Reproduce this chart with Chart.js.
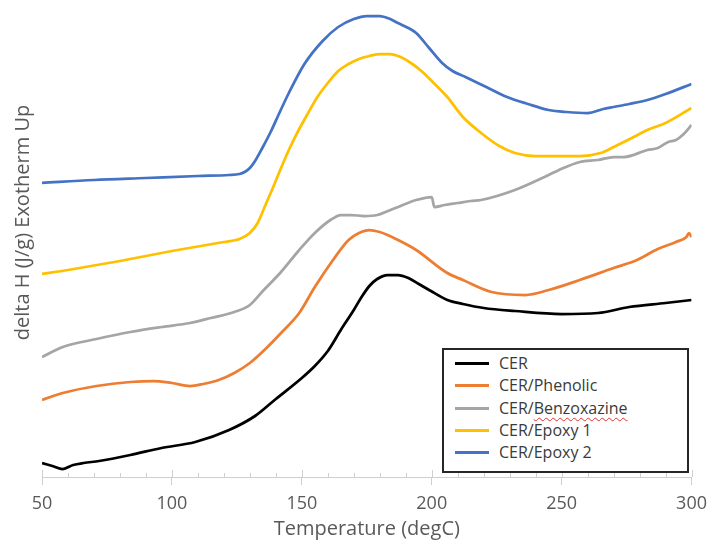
<!DOCTYPE html>
<html><head><meta charset="utf-8">
<script src="https://cdn.jsdelivr.net/npm/chart.js@4"></script>
<style>
html,body{margin:0;padding:0;background:#fff;}
#wrap{position:relative;width:715px;height:545px;}
#legend{position:absolute;left:442px;top:348px;width:243px;height:121px;border:2px solid #262626;background:#fff;font-family:"Open Sans";font-size:16px;color:#3a3a3a;}
.row{position:absolute;left:0;height:22px;display:flex;align-items:center;white-space:nowrap;}
.sw{display:inline-block;width:34px;height:3px;margin-left:11px;margin-right:10px;}
.sq{text-decoration:underline wavy #e03030;text-decoration-thickness:1px;text-underline-offset:3px;}
</style></head>
<body>
<div id="wrap">
<canvas id="c" width="715" height="545"></canvas>
<div id="legend"></div>
</div>
<script>
const seriesNames = ["CER", "CER/Phenolic", "CER/Benzoxazine", "CER/Epoxy 1", "CER/Epoxy 2"];
const seriesColors = ["#000000", "#ED7D31", "#A5A5A5", "#FFC000", "#4472C4"];
const xTicks = [50, 100, 150, 200, 250, 300];
const xTitle = "Temperature (degC)";
const yTitle = "delta H (J/g) Exotherm Up";

const cerX = [50,54,58,62,66,72,84,96,109,122,132,140,150,155,160,165,170,173,176,179,183,187,191,195,199,206,212,220,232,250,264,276,290,300];
const cerY = [1.4,1.1,0.8,1.2,1.4,1.6,2.2,2.9,3.5,4.7,6.1,7.8,9.9,11.1,12.6,14.7,16.7,18.0,19.1,19.8,20.2,20.2,19.9,19.3,18.7,17.7,17.3,16.9,16.6,16.3,16.4,17.0,17.4,17.7];

const phX = [50,58,71,84,93,100,107,112,118,124,130,136,142,149,155,162,168,172,176,180,183,187,194,206,212,223,236,245,257,270,279,287,294,298,299,300];
const phY = [7.7,8.4,9.1,9.5,9.6,9.4,9.1,9.3,9.7,10.4,11.4,12.8,14.4,16.4,19.0,21.7,23.7,24.4,24.7,24.5,24.2,23.7,22.7,20.4,19.7,18.5,18.2,18.7,19.7,20.9,21.7,22.8,23.5,24.0,24.4,24.0];

const bzX = [50,58,71,84,96,107,115,124,130,135,142,149,155,161,165,169,174,179,186,194,200,201,205,210,215,219,232,245,249,257,264,270,274,283,287,291,294,297,300];
const bzY = [12.0,13.0,13.8,14.5,15.0,15.4,15.9,16.5,17.2,18.6,20.5,22.7,24.4,25.7,26.2,26.2,26.1,26.2,26.9,27.7,28.0,27.0,27.2,27.4,27.6,27.7,28.7,30.2,30.7,31.5,31.7,32.0,32.0,32.7,32.9,33.5,33.7,34.3,35.2];

const e1X = [50,60,80,100,120,126,130,133,136,139,142,145,148,152,156,160,164,168,172,176,180,184,188,192,196,200,206,212,219,226,232,240,248,257,265,270,277,283,290,300];
const e1Y = [20.3,20.7,21.6,22.6,23.5,23.8,24.4,25.4,27.2,29.0,30.9,32.7,34.3,36.2,38.0,39.4,40.6,41.3,41.8,42.1,42.3,42.3,42.0,41.4,40.6,39.6,38.0,36.0,34.4,33.1,32.4,32.1,32.1,32.1,32.4,33.0,33.9,34.7,35.4,36.9];

const e2X = [50,70,90,110,122,126,128,130,132,135,138,141,145,151,158,164,170,175,180,184,187,191,194,199,204,208,213,221,229,237,245,252,260,266,270,276,283,290,300];
const e2Y = [29.4,29.7,29.9,30.1,30.2,30.3,30.5,30.9,31.6,33.0,34.5,36.2,38.4,41.3,43.6,45.0,45.8,46.1,46.1,45.8,45.4,44.9,44.4,42.9,41.4,40.6,40.0,39.0,38.0,37.3,36.7,36.5,36.4,36.8,37.0,37.3,37.7,38.3,39.3];

const allX = [cerX, phX, bzX, e1X, e2X];
const allY = [cerY, phY, bzY, e1Y, e2Y];

const FONT = "'Open Sans', 'DejaVu Sans', sans-serif";
const AXIS_COLOR = "#595959";

const datasets = seriesNames.map((name, i) => ({
  label: name,
  data: allX[i].map((x, k) => ({x: x, y: allY[i][k]})),
  borderColor: seriesColors[i],
  backgroundColor: seriesColors[i],
  borderWidth: 2.75,
  pointRadius: 0,
  fill: false,
  cubicInterpolationMode: 'monotone'
}));

const innerTicks = {
  id: 'innerTicks',
  afterDraw(chart) {
    const xs = chart.scales.x;
    const ctx = chart.ctx;
    const ca = chart.chartArea;
    const y0 = ca.bottom;
    ctx.save();
    ctx.strokeStyle = '#cfcfcf';
    ctx.lineWidth = 1;
    for (let v = xs.min; v <= xs.max; v += 10) {
      const px = Math.round(xs.getPixelForValue(v)) + 0.5;
      const len = xTicks.includes(v) ? 7 : 4;
      ctx.beginPath();
      ctx.moveTo(px, y0);
      ctx.lineTo(px, y0 - len);
      ctx.stroke();
    }
    ctx.restore();
    // y axis title, placed slightly above the plot centre as in the source
    ctx.save();
    ctx.translate(chart.scales.y.left + 23, ca.top + (ca.bottom - ca.top) * 0.455);
    ctx.rotate(-Math.PI / 2);
    ctx.font = "20px " + FONT;
    ctx.fillStyle = AXIS_COLOR;
    ctx.textAlign = 'center';
    ctx.textBaseline = 'middle';
    ctx.fillText(yTitle, 0, 0);
    ctx.restore();
  }
};

new Chart(document.getElementById('c'), {
  type: 'line',
  data: { datasets },
  plugins: [innerTicks],
  options: {
    responsive: false,
    animation: false,
    layout: { padding: { top: 10, right: 21, left: 0, bottom: 0 } },
    plugins: { legend: { display: false }, tooltip: { enabled: false } },
    scales: {
      x: {
        type: 'linear',
        min: 50, max: 300,
        afterFit(s) { s.height = 68; },
        afterBuildTicks(s) {
          const t = [];
          for (let v = 50; v <= 300; v += 10) t.push({value: v});
          s.ticks = t;
        },
        ticks: {
          autoSkip: false, maxRotation: 0,
          callback: v => xTicks.includes(v) ? String(v) : '',
          font: { family: FONT, size: 18 },
          color: AXIS_COLOR,
          padding: 8
        },
        grid: {
          drawOnChartArea: false,
          drawTicks: true,
          tickLength: 8,
          color: c => (c.tick && xTicks.includes(c.tick.value)) ? '#cfcfcf' : 'rgba(0,0,0,0)'
        },
        border: { display: true, color: '#cfcfcf', width: 1 },
        title: {
          display: true, text: xTitle,
          font: { family: FONT, size: 20 }, color: AXIS_COLOR,
          padding: { top: 0, bottom: 4 }
        }
      },
      y: {
        min: 0, max: 46.7,
        afterFit(s) { s.width = 42; },
        ticks: { display: false },
        grid: { display: false },
        border: { display: false },
        title: { display: false, text: yTitle }
      }
    }
  }
});

const leg = document.getElementById('legend');
const rowTops = [2, 24, 47, 69, 91];
seriesNames.forEach((name, i) => {
  const row = document.createElement('div');
  row.className = 'row';
  row.style.top = rowTops[i] + 'px';
  const sw = document.createElement('span');
  sw.className = 'sw';
  sw.style.background = seriesColors[i];
  row.appendChild(sw);
  const txt = document.createElement('span');
  if (name === 'CER/Benzoxazine') {
    txt.appendChild(document.createTextNode('CER/'));
    const u = document.createElement('span');
    u.className = 'sq';
    u.textContent = 'Benzoxazine';
    txt.appendChild(u);
  } else {
    txt.textContent = name;
  }
  row.appendChild(txt);
  leg.appendChild(row);
});
</script>
</body></html>
